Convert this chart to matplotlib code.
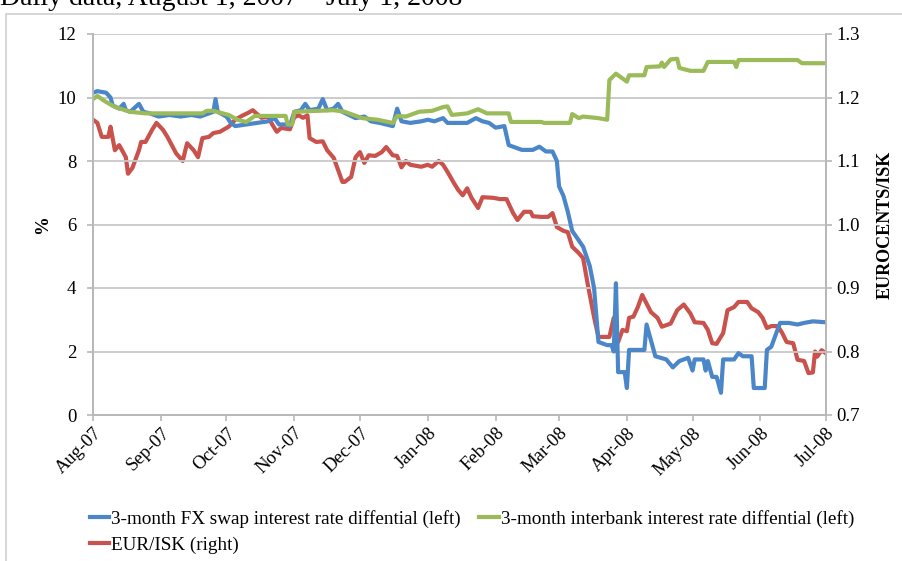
import matplotlib
matplotlib.use("Agg")
import matplotlib.pyplot as plt
import matplotlib.dates as mdates
from matplotlib.patches import Rectangle
import pandas as pd

# day offsets from 2007-08-01
swap_days = [0, 2, 6, 8, 9, 12, 14, 15, 17, 21, 23, 26, 30, 35, 40, 45, 49, 53, 55, 56, 57, 61, 63, 65,
             70, 75, 80, 83, 85, 88, 90, 92, 95, 97, 99, 103, 105, 107, 110, 112, 114, 117, 120, 124,
             127, 131, 134, 137, 139, 141, 145, 150, 153, 156, 160, 162, 167, 171, 175, 178, 181, 184,
             188, 190, 196, 201, 204, 207, 210, 212, 213, 215, 217, 219, 224, 227, 229, 231, 235, 237,
             238, 239, 240, 243, 244, 245, 252, 253, 257, 262, 265, 268, 272, 274, 275, 279, 280, 281,
             283, 285, 287, 288, 293, 295, 297, 301, 302, 307, 308, 310, 314, 318, 322, 325, 329, 335]
swap_vals = [10.15, 10.2, 10.15, 10.0, 9.75, 9.65, 9.8, 9.6, 9.55, 9.8, 9.55, 9.5, 9.4, 9.45, 9.4, 9.45,
             9.4, 9.5, 9.55, 9.95, 9.55, 9.4, 9.2, 9.1, 9.15, 9.2, 9.25, 9.35, 9.15, 9.15, 9.1, 9.55, 9.6,
             9.8, 9.6, 9.65, 9.95, 9.6, 9.65, 9.8, 9.55, 9.45, 9.35, 9.4, 9.25, 9.2, 9.15, 9.1, 9.65, 9.25,
             9.2, 9.25, 9.3, 9.25, 9.35, 9.2, 9.2, 9.2, 9.35, 9.25, 9.2, 9.05, 9.1, 8.5, 8.35, 8.35, 8.45,
             8.3, 8.3, 8.0, 7.2, 6.9, 6.4, 5.8, 5.3, 4.7, 4.0, 2.3, 2.2, 2.2, 2.0, 4.15, 1.35, 1.35, 0.85,
             2.05, 2.05, 2.85, 1.85, 1.75, 1.5, 1.7, 1.8, 1.4, 1.75, 1.75, 1.4, 1.7, 1.2, 1.2, 0.7, 1.75,
             1.75, 1.95, 1.85, 1.85, 0.85, 0.85, 2.05, 2.15, 2.9, 2.9, 2.85, 2.9, 2.95, 2.92]

ib_days = [0, 2, 5, 10, 17, 24, 35, 50, 52, 55, 62, 66, 70, 74, 88, 89, 91, 92, 110, 115, 123, 130, 137,
           139, 143, 149, 155, 160, 162, 164, 171, 176, 180, 190, 191, 205, 206, 218, 219, 222, 224, 231,
           235, 236, 239, 244, 245, 252, 253, 259, 260, 261, 264, 267, 268, 273, 279, 281, 293, 294, 295,
           322, 324, 335]
ib_vals = [9.95, 10.05, 9.9, 9.7, 9.55, 9.5, 9.5, 9.5, 9.58, 9.58, 9.45, 9.3, 9.23, 9.42, 9.42, 9.15,
           9.15, 9.55, 9.6, 9.55, 9.35, 9.3, 9.2, 9.42, 9.4, 9.55, 9.58, 9.7, 9.72, 9.45, 9.5, 9.63, 9.5,
           9.5, 9.23, 9.23, 9.2, 9.2, 9.48, 9.35, 9.4, 9.35, 9.3, 10.55, 10.75, 10.5, 10.7, 10.7, 10.96,
           10.98, 11.1, 10.96, 11.2, 11.22, 10.93, 10.84, 10.84, 11.12, 11.12, 10.96, 11.18, 11.18, 11.08,
           11.08]

eur_days = [0, 2, 4, 7, 8, 10, 12, 15, 16, 18, 21, 22, 24, 27, 29, 32, 34, 38, 41, 43, 46, 48, 50, 53,
            55, 58, 62, 65, 68, 71, 73, 75, 77, 80, 82, 84, 86, 90, 92, 94, 96, 98, 99, 102, 105, 107,
            110, 112, 114, 115, 118, 120, 122, 124, 126, 129, 132, 134, 137, 139, 141, 143, 145, 150,
            153, 155, 158, 160, 162, 165, 167, 169, 171, 173, 176, 178, 183, 186, 189, 192, 194, 197,
            200, 201, 205, 208, 210, 212, 215, 217, 219, 222, 224, 226, 229, 231, 236, 238, 239, 240,
            242, 244, 245, 247, 249, 251, 255, 258, 260, 264, 267, 270, 273, 275, 279, 281, 283, 285,
            288, 290, 293, 295, 299, 301, 304, 306, 308, 310, 313, 315, 317, 320, 322, 325, 327, 329,
            330, 331, 333, 335]
eur_vals = [1.165, 1.16, 1.138, 1.138, 1.154, 1.117, 1.125, 1.106, 1.08, 1.089, 1.117, 1.13, 1.13,
            1.149, 1.16, 1.149, 1.138, 1.112, 1.10, 1.128, 1.117, 1.106, 1.136, 1.138, 1.144, 1.146,
            1.154, 1.165, 1.171, 1.176, 1.18, 1.174, 1.168, 1.17, 1.157, 1.146, 1.152, 1.15, 1.169,
            1.172, 1.168, 1.172, 1.136, 1.13, 1.131, 1.117, 1.105, 1.086, 1.067, 1.067, 1.075, 1.106,
            1.114, 1.097, 1.109, 1.108, 1.114, 1.122, 1.109, 1.108, 1.09, 1.10, 1.094, 1.091, 1.094,
            1.091, 1.10, 1.094, 1.083, 1.065, 1.054, 1.046, 1.057, 1.042, 1.026, 1.043, 1.042, 1.04,
            1.04, 1.018, 1.007, 1.02, 1.02, 1.013, 1.012, 1.012, 1.018, 0.996, 0.99, 0.988, 0.965,
            0.955, 0.947, 0.908, 0.854, 0.823, 0.823, 0.853, 0.84, 0.815, 0.834, 0.832, 0.853, 0.855,
            0.87, 0.889, 0.862, 0.853, 0.839, 0.844, 0.865, 0.874, 0.86, 0.846, 0.845, 0.834, 0.813,
            0.812, 0.829, 0.865, 0.87, 0.878, 0.878, 0.868, 0.862, 0.853, 0.837, 0.84, 0.84, 0.829,
            0.815, 0.813, 0.787, 0.785, 0.766, 0.767, 0.8, 0.792, 0.802, 0.797]

labels = ["3-month FX swap interest rate diffential (left)",
          "3-month interbank interest rate diffential (left)",
          "EUR/ISK (right)"]

start = pd.Timestamp("2007-08-01")
to_dates = lambda d: start + pd.to_timedelta(d, unit="D")

plt.rcParams['font.family'] = ['Liberation Serif', 'DejaVu Serif']

fig = plt.figure(figsize=(9.03, 5.61), dpi=100)
# light frame around the chart
fig.patches.append(Rectangle((6 / 903, -0.1), 1.0, 1 - 14 / 561 + 0.1, transform=fig.transFigure,
                             fill=False, edgecolor="#d0d0d0", linewidth=1.2))
# title sits mostly above the image edge, as in the source
fig.text(0.0, 1 - 5 / 561, "Daily data, August 1, 2007 \u2013 July 1, 2008", fontsize=20,
         va="baseline", ha="left")

ax = fig.add_axes([93 / 903, 1 - 415 / 561, (826 - 93) / 903, (415 - 34) / 561])
ax2 = ax.twinx()

blue, green, red = "#4a86c8", "#9bbb59", "#c9524c"
l1, = ax.plot(to_dates(swap_days), swap_vals, color=blue, lw=3, solid_joinstyle="round")
l2, = ax.plot(to_dates(ib_days), ib_vals, color=green, lw=3, solid_joinstyle="round")
l3, = ax2.plot(to_dates(eur_days), eur_vals, color=red, lw=3, solid_joinstyle="round")
ax.set_zorder(ax2.get_zorder() + 1)
ax.patch.set_visible(False)

ax.set_xlim(pd.Timestamp("2007-08-01"), pd.Timestamp("2008-07-01"))
ax.set_ylim(0, 12)
ax2.set_ylim(0.7, 1.3)
ax.set_yticks(range(0, 13, 2))
ax2.set_yticks([0.7, 0.8, 0.9, 1.0, 1.1, 1.2, 1.3])
ax2.set_yticklabels(["0.7", "0.8", "0.9", "1.0", "1.1", "1.2", "1.3"])
ax.xaxis.set_major_locator(mdates.MonthLocator())
ax.xaxis.set_major_formatter(mdates.DateFormatter("%b-%y"))
ax.grid(axis="y", color="#c8c8c8", lw=1.3)
ax.set_axisbelow(True)

for a in (ax, ax2):
    for s in a.spines.values():
        s.set_color("#b8b8b8")
        s.set_linewidth(1.3)
    a.spines["top"].set_visible(False)
    a.tick_params(colors="#b8b8b8", labelcolor="black", labelsize=13.5, length=4, width=1.2)
for lab in ax.get_xticklabels():
    lab.set_rotation(45)
    lab.set_ha("right")
    lab.set_rotation_mode("anchor")
ax.tick_params(axis="x", pad=3)
ax.tick_params(axis="y", pad=8)

ax.set_ylabel("%", fontsize=13.5, fontweight="bold", labelpad=5)
ax2.set_ylabel("EUROCENTS/ISK", fontsize=13, fontweight="bold", labelpad=12)

fig.legend([l1, l3, l2], [labels[0], labels[2], labels[1]], ncol=2, loc="upper left",
           bbox_to_anchor=(80 / 903, 1 - 500 / 561), frameon=False, fontsize=13.8,
           handlelength=1.0, handletextpad=0.1, columnspacing=1.0, labelspacing=0.45, borderpad=0)

fig.savefig("out.png", dpi=100)
